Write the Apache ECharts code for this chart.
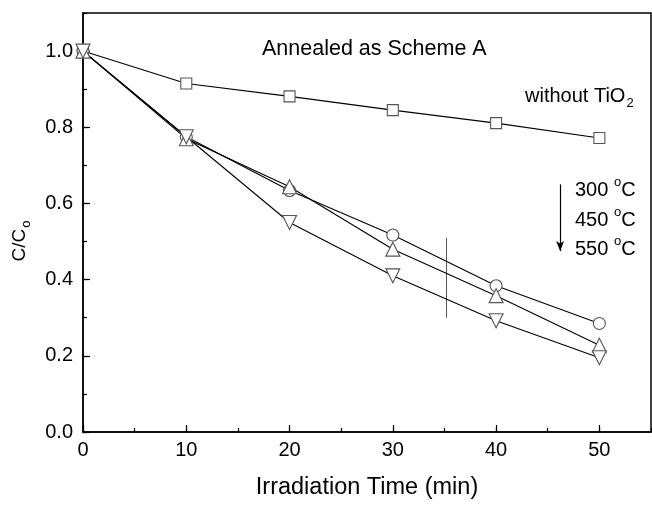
<!DOCTYPE html>
<html><head><meta charset="utf-8">
<script src="https://cdn.jsdelivr.net/npm/echarts@6/dist/echarts.min.js"></script>
<style>html,body{margin:0;padding:0;background:#fff}#c{width:652px;height:505px}</style>
</head><body><div id="c"></div>
<script>
var times = [0, 10, 20, 30, 40, 50];
var withoutTiO2 = [1.0, 0.915, 0.881, 0.845, 0.811, 0.772];
var t300 = [1.0, 0.775, 0.634, 0.517, 0.384, 0.285];
var t450 = [1.0, 0.77, 0.644, 0.48, 0.358, 0.228];
var t550 = [1.0, 0.775, 0.55, 0.41, 0.292, 0.195];
var markerLine = [[35.2, 0.51], [35.2, 0.30]];
var arrowPts = [[46.2, 0.65], [46.2, 0.475]];
var xTicks = [0, 10, 20, 30, 40, 50];
var yTicks = [0.0, 0.2, 0.4, 0.6, 0.8, 1.0];

function pts(v){ return times.map(function(t,i){return [t, v[i]];}); }
var FONT = 'Liberation Sans';
var chart = echarts.init(document.getElementById('c'));
function ser(name, v, sym, size, rot){
  return {name:name, type:'line', data:pts(v), symbol:sym, symbolSize:size, symbolRotate:rot||0,
    showAllSymbol:true, z:3,
    lineStyle:{color:'#000', width:1.1},
    itemStyle:{color:'#fff', borderColor:'#555', borderWidth:1.1}};
}
var degRich = {a:{fill:'#000', fontFamily:FONT, fontSize:20}, b:{fill:'#000', fontFamily:FONT, fontSize:13, padding:[0,0,15,0]}};
chart.setOption({
  animation:false,
  grid:{left:83, top:13, right:1, bottom:70, show:true, borderColor:'#000', borderWidth:1.5},
  xAxis:[
    {type:'value', min:0, max:55, interval:10,
      name:'Irradiation Time (min)', nameLocation:'middle', nameGap:44,
      nameTextStyle:{color:'#000', fontFamily:FONT, fontSize:23.5},
      axisLine:{show:true, onZero:false, lineStyle:{color:'#000', width:1.5}},
      axisTick:{show:true, inside:true, length:7, lineStyle:{color:'#000', width:1.2}},
      axisLabel:{color:'#000', fontFamily:FONT, fontSize:20, margin:8, showMaxLabel:false,
        formatter:function(v){return xTicks.indexOf(v)>=0 ? String(v) : '';}},
      splitLine:{show:false}},
    {type:'value', min:0, max:55, interval:5, position:'bottom',
      axisLine:{show:false}, axisLabel:{show:false}, splitLine:{show:false},
      axisTick:{show:true, inside:true, length:4, lineStyle:{color:'#000', width:1.2}}}
  ],
  yAxis:[
    {type:'value', min:0, max:1.1, interval:0.2,
      axisLine:{show:true, lineStyle:{color:'#000', width:1.5}},
      axisTick:{show:true, inside:true, length:7, lineStyle:{color:'#000', width:1.2}},
      axisLabel:{color:'#000', fontFamily:FONT, fontSize:20, margin:10, showMaxLabel:false,
        formatter:function(v){return yTicks.some(function(t){return Math.abs(t-v)<1e-6;}) ? v.toFixed(1) : '';}},
      splitLine:{show:false}},
    {type:'value', min:0, max:1.1, interval:0.1, position:'left',
      axisLine:{show:false}, axisLabel:{show:false}, splitLine:{show:false},
      axisTick:{show:true, inside:true, length:4, lineStyle:{color:'#000', width:1.2}}}
  ],
  series:[
    ser('without TiO2', withoutTiO2, 'rect', 11),
    ser('300', t300, 'circle', 12),
    ser('450', t450, 'triangle', 14),
    ser('550', t550, 'triangle', 14, 180),
    {type:'line', data:markerLine, symbol:'none', lineStyle:{color:'#555', width:1}, z:2},
    {type:'line', data:[], symbol:'none', silent:true,
      markLine:{silent:true, symbol:['none','arrow'], symbolSize:[6,10], animation:false,
        label:{show:false}, lineStyle:{color:'#000', width:1.2, type:'solid'},
        data:[[{coord:arrowPts[0]},{coord:arrowPts[1]}]]}}
  ],
  graphic:[
    {type:'text', x:20, y:241, rotation:Math.PI/2, style:{text:'{a|C/C}{b|o}', align:'center', verticalAlign:'middle',
      rich:{a:{fill:'#000', fontFamily:FONT, fontSize:19}, b:{fill:'#000', fontFamily:FONT, fontSize:13, padding:[12,0,0,1]}}}},
    {type:'text', left:262, top:38, style:{text:'Annealed as Scheme A', fill:'#000', font:'21.5px "Liberation Sans"'}},
    {type:'text', left:525, top:86, style:{text:'{a|without TiO}{b|2}',
      rich:{a:{fill:'#000', fontFamily:FONT, fontSize:20}, b:{fill:'#000', fontFamily:FONT, fontSize:13, padding:[14,0,0,1]}}}},
    {type:'text', left:575, top:176, style:{text:'{a|300 }{b|o}{a|C}', rich:degRich}},
    {type:'text', left:575, top:206, style:{text:'{a|450 }{b|o}{a|C}', rich:degRich}},
    {type:'text', left:575, top:235, style:{text:'{a|550 }{b|o}{a|C}', rich:degRich}}
  ]
});
</script></body></html>
